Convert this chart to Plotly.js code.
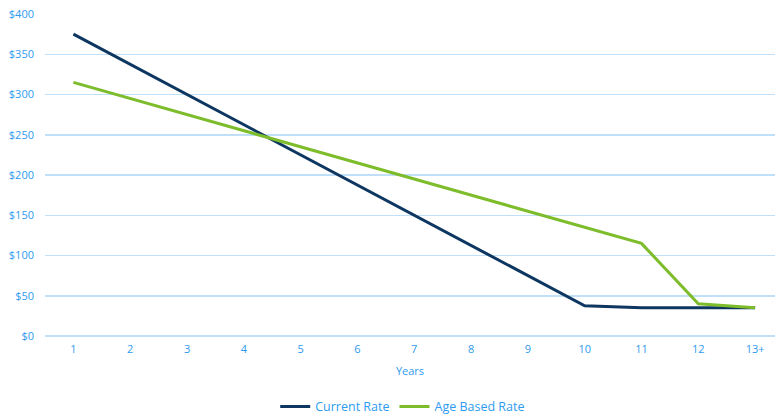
<!DOCTYPE html>
<html>
<head>
<meta charset="utf-8">
<script src="https://cdn.plot.ly/plotly-3.0.1.min.js"></script>
<style>html,body{margin:0;padding:0;background:#fff;}#chart{width:775px;height:417px;}</style>
</head>
<body>
<div id="chart"></div>
<script>
const years = ["1","2","3","4","5","6","7","8","9","10","11","12","13+"];
const currentRate = [375, 337.5, 300, 262.5, 225, 187.5, 150, 112.5, 75, 37.5, 35, 35, 35];
const ageBasedRate = [315, 295, 275, 255, 235, 215, 195, 175, 155, 135, 115, 40, 35];
const seriesNames = ["Current Rate", "Age Based Rate"];

const labelColor = "#2E9BF0";
const gridColor = "#BFE0F8";

const traces = [
  {x: years, y: currentRate, name: seriesNames[0], type: "scatter", mode: "lines",
   line: {color: "#0D3761", width: 3}},
  {x: years, y: ageBasedRate, name: seriesNames[1], type: "scatter", mode: "lines",
   line: {color: "#7DBC2A", width: 3}}
];

const layout = {
  width: 775, height: 417,
  margin: {l: 45, r: 0, t: 14, b: 81, autoexpand: false},
  paper_bgcolor: "#fff", plot_bgcolor: "#fff",
  font: {family: "Open Sans, sans-serif", size: 11, color: labelColor},
  showlegend: true,
  legend: {orientation: "h", x: 0.49, xanchor: "center", y: -0.22, yanchor: "middle",
           font: {size: 12.5, color: labelColor}, itemwidth: 30, tracegroupgap: 0},
  xaxis: {type: "category", range: [-0.5, 12.35], showgrid: false, zeroline: false,
          showline: false, ticks: "", ticklabelstandoff: 5, tickfont: {size: 11, color: labelColor},
          title: {text: "Years", font: {size: 11, color: labelColor}, standoff: 12}},
  yaxis: {range: [0, 400], dtick: 50, tickprefix: "$", showgrid: true, gridcolor: gridColor,
          gridwidth: 1.5, zeroline: true, zerolinecolor: gridColor, zerolinewidth: 1.5,
          showline: false, ticks: "", ticklabelstandoff: 10, tickfont: {size: 11, color: labelColor}, fixedrange: true}
};

Plotly.newPlot("chart", traces, layout, {displayModeBar: false, staticPlot: true});
</script>
</body>
</html>
